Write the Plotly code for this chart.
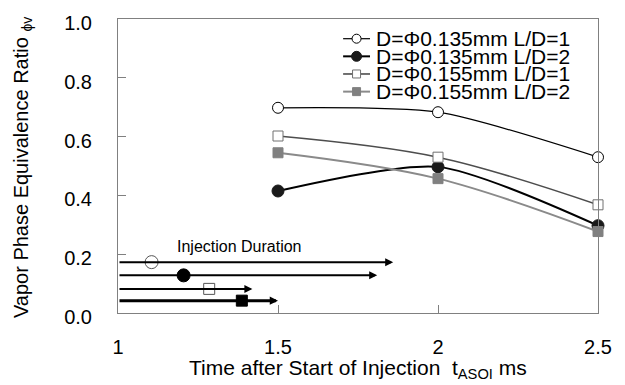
import plotly.graph_objects as go

# ---------------- data ----------------
time_ms = [1.5, 2.0, 2.5]
series_names = ["D=Φ0.135mm L/D=1", "D=Φ0.135mm L/D=2",
                "D=Φ0.155mm L/D=1", "D=Φ0.155mm L/D=2"]
phi_135_ld1 = [0.698, 0.683, 0.530]
phi_135_ld2 = [0.415, 0.497, 0.297]
phi_155_ld1 = [0.602, 0.530, 0.368]
phi_155_ld2 = [0.545, 0.457, 0.277]

inj_start = [1.0, 1.0, 1.0, 1.0]
inj_end = [1.86, 1.81, 1.42, 1.50]
inj_mark = [1.105, 1.205, 1.285, 1.387]
inj_level = [0.173, 0.128, 0.082, 0.042]

x_ticks = [1, 1.5, 2, 2.5]
x_tick_text = ["1", "1.5", "2", "2.5"]
y_ticks = [0.0, 0.2, 0.4, 0.6, 0.8, 1.0]
y_tick_text = ["0.0", "0.2", "0.4", "0.6", "0.8", "1.0"]

# ---------------- styles ----------------
FONT = "Liberation Sans, Arial, sans-serif"
styles = [
    dict(line=dict(color="black", width=1.2),
         marker=dict(symbol="circle", size=11, color="white", line=dict(color="black", width=1))),
    dict(line=dict(color="black", width=2),
         marker=dict(symbol="circle", size=12, color="#1a1a1a", line=dict(color="#1a1a1a", width=1))),
    dict(line=dict(color="#4d4d4d", width=1.6),
         marker=dict(symbol="square", size=10, color="white", line=dict(color="#707070", width=1))),
    dict(line=dict(color="#8a8a8a", width=2),
         marker=dict(symbol="square", size=10, color="#808080", line=dict(color="#808080", width=1))),
]
smoothings = [0.7, 0.7, 1.0, 1.0]
inj_marker_styles = [
    dict(symbol="circle", size=13, color="white", line=dict(color="#555555", width=1)),
    dict(symbol="circle", size=13, color="black", line=dict(color="black", width=1)),
    dict(symbol="square", size=11, color="white", line=dict(color="#555555", width=1)),
    dict(symbol="square", size=11, color="black", line=dict(color="black", width=1)),
]
inj_arrow_widths = [2, 2, 2, 3]
inj_arrow_sizes = [0.8, 0.8, 0.8, 0.55]

all_series = [phi_135_ld1, phi_135_ld2, phi_155_ld1, phi_155_ld2]

fig = go.Figure()

for name, vals, st, sm in zip(series_names, all_series, styles, smoothings):
    fig.add_trace(go.Scatter(
        x=time_ms, y=vals, mode="lines+markers", name=name,
        line=dict(shape="spline", smoothing=sm, **st["line"]),
        marker=st["marker"], showlegend=False, cliponaxis=False))

# injection duration arrows
for x0, x1, xm, yv, w, asz, ms in zip(inj_start, inj_end, inj_mark, inj_level,
                                      inj_arrow_widths, inj_arrow_sizes, inj_marker_styles):
    fig.add_annotation(x=x1, y=yv, ax=x0, ay=yv, xref="x", yref="y",
                       axref="x", ayref="y", text="", showarrow=True,
                       arrowhead=2, arrowsize=asz, arrowwidth=w,
                       arrowcolor="black", standoff=0, startstandoff=0)
    fig.add_trace(go.Scatter(x=[xm], y=[yv], mode="markers", marker=ms,
                             showlegend=False, cliponaxis=False))

fig.add_annotation(x=1.381, y=0.227, xref="x", yref="y", text="Injection Duration",
                   showarrow=False, font=dict(family=FONT, size=16, color="black"))

# custom legend (overlay axis in plot-fraction units)
leg_rows = [0.933, 0.873, 0.813, 0.753]
for name, st, ry in zip(series_names, styles, leg_rows):
    fig.add_trace(go.Scatter(x=[0.469, 0.525], y=[ry, ry], xaxis="x2", yaxis="y2",
                             mode="lines", line=dict(color=st["line"]["color"],
                                                     width=st["line"]["width"]),
                             showlegend=False, hoverinfo="skip"))
    m = dict(st["marker"])
    m["size"] = m["size"] - 2
    fig.add_trace(go.Scatter(x=[0.497], y=[ry], xaxis="x2", yaxis="y2",
                             mode="markers", marker=m, showlegend=False,
                             hoverinfo="skip"))
    fig.add_annotation(x=0.533, y=ry, xref="paper", yref="paper", text=name,
                       showarrow=False, xanchor="left", yanchor="middle",
                       font=dict(family=FONT, size=21, color="black"))

# axis titles
fig.add_annotation(x=0.5, y=-0.19, xref="paper", yref="paper",
                   text="Time after Start of Injection  t<sub>ASOI</sub> ms",
                   showarrow=False, yanchor="middle",
                   font=dict(family=FONT, size=21, color="black"))
fig.add_annotation(x=-0.2, y=0.493, xref="paper", yref="paper",
                   text="Vapor Phase Equivalence Ratio <sub>ϕv</sub>",
                   showarrow=False, textangle=-90, xanchor="center", yanchor="middle",
                   font=dict(family=FONT, size=20, color="black"))

fig.update_layout(
    width=625, height=385,
    margin=dict(l=118, r=27, t=13, b=72),
    paper_bgcolor="white", plot_bgcolor="white",
    font=dict(family=FONT, size=20, color="black"),
    showlegend=False,
    xaxis=dict(range=[1, 2.5], tickvals=x_ticks, ticktext=x_tick_text,
               ticks="inside", ticklen=8, tickcolor="#808080",
               showgrid=False, zeroline=False, showline=True, linecolor="#808080",
               linewidth=1, mirror=True, ticklabelstandoff=16,
               tickfont=dict(family=FONT, size=20, color="black")),
    yaxis=dict(range=[0, 1], tickvals=y_ticks, ticktext=y_tick_text,
               ticks="inside", ticklen=8, tickcolor="#808080",
               showgrid=False, zeroline=False, showline=True, linecolor="#808080",
               linewidth=1, mirror=True, ticklabelstandoff=21, ticklabelshift=4,
               tickfont=dict(family=FONT, size=20, color="black")),
    xaxis2=dict(range=[0, 1], overlaying="x", visible=False, fixedrange=True),
    yaxis2=dict(range=[0, 1], overlaying="y", visible=False, fixedrange=True),
)

fig.write_html("out.html")
